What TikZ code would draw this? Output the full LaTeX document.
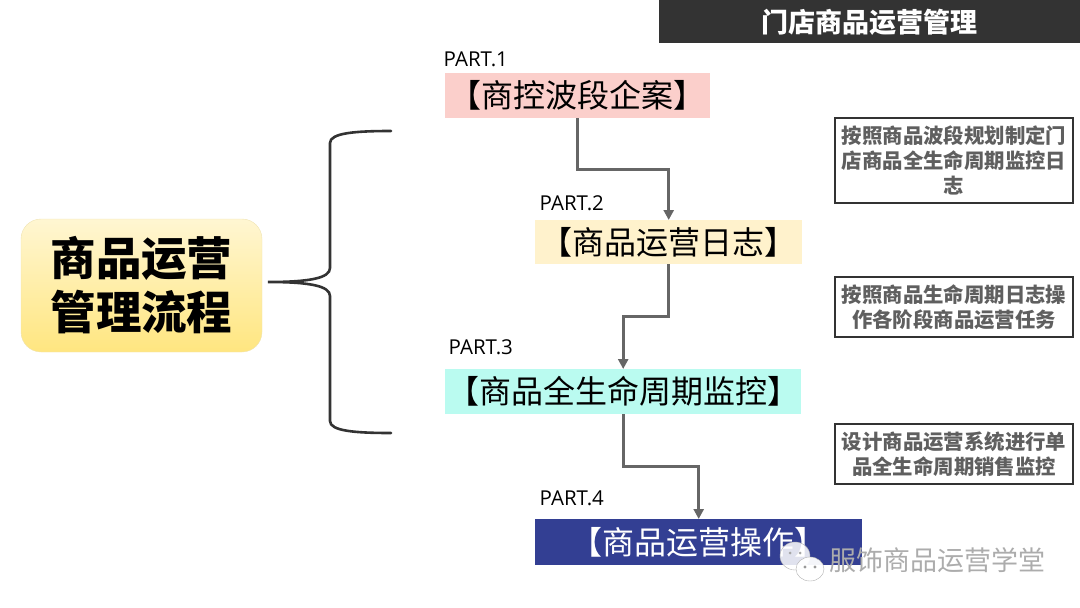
\documentclass[tikz,border=0pt]{standalone}
\usepackage{fontspec}
\setmainfont{Open Sans}
\newfontfamily\cjk{Noto Sans CJK SC}
\usetikzlibrary{calc}
\usetikzlibrary{arrows.meta}
\definecolor{barcol}{HTML}{333333}
\definecolor{linkcol}{HTML}{666666}
\definecolor{notecol}{HTML}{5F5F5F}
\definecolor{goldtop}{HTML}{FFF6D2}
\definecolor{goldbot}{HTML}{FFE680}
\tikzset{
    part/.style={anchor=west,inner sep=0pt,font=\fontsize{20.5}{24}\selectfont},
    stage/.style={anchor=north west,inner sep=0pt,align=center,font=\cjk\fontsize{32}{36}\selectfont},
    note/.style={draw=barcol,line width=1.6pt,fill=white,inner sep=0pt,align=center,
        text=notecol,font=\cjk\bfseries\fontsize{20.4}{25}\selectfont},
    link/.style={draw=linkcol,line width=2.8pt,-{Triangle[length=10pt,width=10pt]}},
}
\begin{document}
\begin{tikzpicture}[x=1pt,y=-1pt]
    \useasboundingbox (0,0) rectangle (1080,608);

    \fill[barcol] (659,0) rectangle (1080,43);
    \node[text=white,font=\cjk\bfseries\fontsize{27}{32}\selectfont] (title) at (869,22) {门店商品运营管理};

    \node[rounded corners=20pt,draw=goldbot!80!gray!60,top color=goldtop,bottom color=goldbot,
        minimum width=241pt,minimum height=133pt,inner sep=0pt,align=center,
        font=\cjk\bfseries\fontsize{45.5}{54}\selectfont] (main) at (141.5,285.5) {商品运营\\管理流程};

    % brace
    \coordinate (tip) at (268,282);
    \draw[barcol,line width=2.6pt,line cap=round] (391,131) .. controls (355,131) and (330,133) .. (330,143)
        -- (330,268) .. controls (330,278) and (310,282) .. (tip)
        .. controls (310,282) and (330,286) .. (330,296)
        -- (330,421) .. controls (330,431) and (355,433) .. (391,433);

    \node[part] (p1) at (443.5,59) {PART.1};
    \node[part] (p2) at (539.5,203) {PART.2};
    \node[part] (p3) at (448.5,347) {PART.3};
    \node[part] (p4) at (539.5,498) {PART.4};

    \node[stage,fill={rgb,255:red,251;green,207;blue,203},minimum width=265pt,minimum height=45pt] (s1) at (445,73) {\cjk【商控波段企案】};
    \node[stage,fill={rgb,255:red,255;green,242;blue,204},minimum width=267pt,minimum height=44pt] (s2) at (535,220) {\cjk【商品运营日志】};
    \node[stage,fill={rgb,255:red,186;green,251;blue,240},minimum width=356pt,minimum height=45pt] (s3) at (445,369) {\cjk【商品全生命周期监控】};
    \node[stage,fill={rgb,255:red,51;green,63;blue,147},text=white,minimum width=327pt,minimum height=46pt] (s4) at (535,519) {\cjk【商品运营操作】};

    \draw[link] (s1.south) |- ($(s1.south)!.5!(s2.north)$) -| (s2.north);
    \draw[link] (s2.south) |- ($(s2.south)!.5!(s3.north)$) -| (s3.north);
    \draw[link] (s3.south) |- ($(s3.south)!.5!(s4.north)$) -| (s4.north);

    \node[note,minimum width=238pt,minimum height=85pt] (n1) at (954,160.5) {按照商品波段规划制定门\\店商品全生命周期监控日\\志};
    \node[note,minimum width=238pt,minimum height=60pt] (n2) at (954,307) {按照商品生命周期日志操\\作各阶段商品运营任务};
    \node[note,minimum width=238pt,minimum height=60pt] (n3) at (954,454) {设计商品运营系统进行单\\品全生命周期销售监控};

    % watermark
    \draw[gray!60,fill=white,fill opacity=.85] (795,556) ellipse (15pt and 14pt);
    \fill[gray!70] (790,553) circle (1.5pt) (800,553) circle (1.5pt);
    \draw[gray!60,fill=white,fill opacity=.95] (810,569) ellipse (14pt and 12pt);
    \fill[gray!80] (805,567) circle (1.7pt) (815,567) circle (1.7pt);
    \node[text=gray!65,font=\cjk\fontsize{27}{32}\selectfont] (mark) at (937.5,560) {服饰商品运营学堂};
\end{tikzpicture}
\end{document}
